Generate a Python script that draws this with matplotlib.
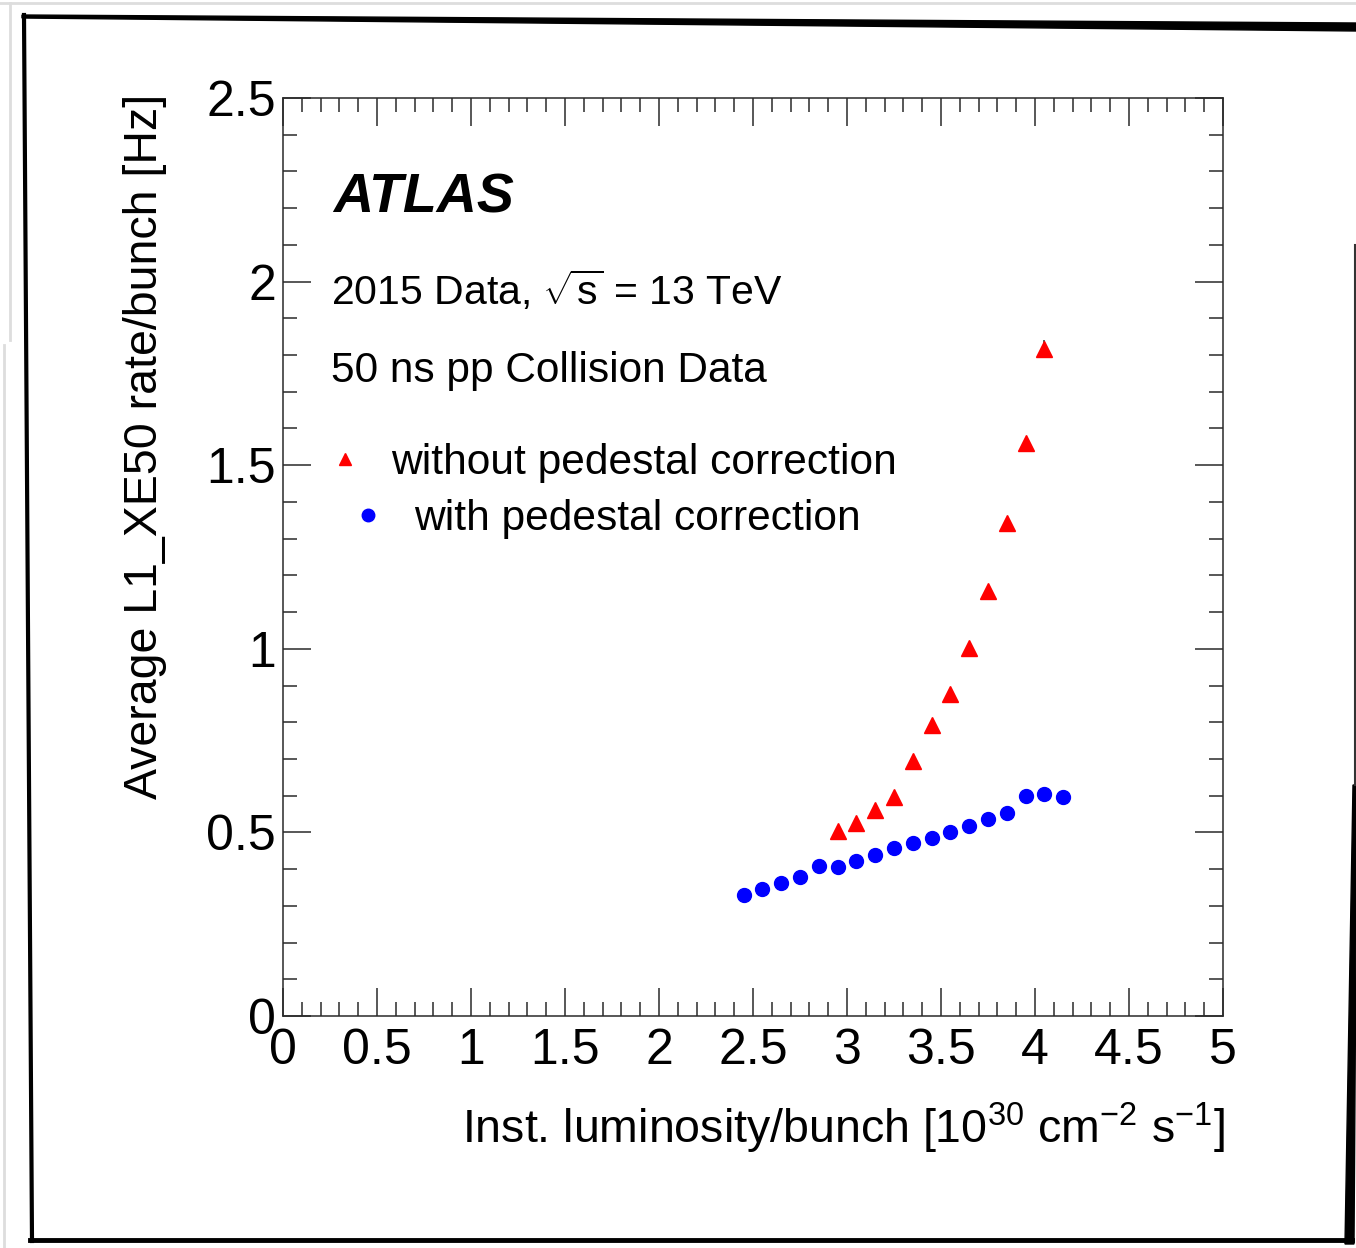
import numpy as np
import matplotlib.pyplot as plt
from matplotlib.lines import Line2D
from matplotlib.patches import Polygon
from matplotlib.ticker import MultipleLocator

plt.rcParams['font.family'] = ['Liberation Sans', 'DejaVu Sans']
plt.rcParams['mathtext.fontset'] = 'custom'
plt.rcParams['mathtext.rm'] = 'Liberation Sans'
plt.rcParams['mathtext.default'] = 'regular'

# L1_XE50 rate per bunch vs instantaneous luminosity per bunch
lumi_corr = [2.45, 2.55, 2.65, 2.75, 2.85, 2.95, 3.05, 3.15, 3.25,
             3.35, 3.45, 3.55, 3.65, 3.75, 3.85, 3.95, 4.05, 4.15]
rate_corr = [0.330, 0.346, 0.362, 0.379, 0.408, 0.406, 0.422, 0.438, 0.458,
             0.471, 0.485, 0.501, 0.517, 0.536, 0.553, 0.599, 0.605, 0.596]

lumi_raw = [2.95, 3.05, 3.15, 3.25, 3.35, 3.45, 3.55, 3.65, 3.75, 3.85, 3.95, 4.05]
rate_raw = [0.504, 0.526, 0.561, 0.596, 0.694, 0.792, 0.877, 1.002, 1.157, 1.343, 1.560, 1.816]
err_raw = [0.004, 0.004, 0.005, 0.005, 0.006, 0.007, 0.008, 0.009, 0.011, 0.013, 0.016, 0.024]

W, H = 1356, 1248
fig = plt.figure(figsize=(W / 100, H / 100), dpi=100)
ax = fig.add_axes([283 / W, 1 - 1016 / H, 940 / W, 918 / H])

axis_col = '#2a2a2a'
ax.errorbar(lumi_raw, rate_raw, yerr=err_raw, fmt='none', ecolor='#444444', elinewidth=1.2, capsize=0)
ax.plot(lumi_raw, rate_raw, ls='none', marker='^', ms=11, color='#ff0000', mec='#ff0000')
ax.plot(lumi_corr, rate_corr, ls='none', marker='o', ms=10, color='#0000ff', mec='#0000ff')

ax.set_xlim(0, 5)
ax.set_ylim(0, 2.5)
ax.xaxis.set_major_locator(MultipleLocator(0.5))
ax.xaxis.set_minor_locator(MultipleLocator(0.1))
ax.yaxis.set_major_locator(MultipleLocator(0.5))
ax.yaxis.set_minor_locator(MultipleLocator(0.1))
ax.xaxis.set_major_formatter(plt.FuncFormatter(lambda v, p: f'{v:g}'))
ax.yaxis.set_major_formatter(plt.FuncFormatter(lambda v, p: f'{v:g}'))

ax.tick_params(which='both', direction='in', top=True, right=True, color=axis_col, width=1.1)
ax.tick_params(which='major', length=20)
ax.tick_params(which='minor', length=10)
ax.tick_params(axis='x', which='major', labelsize=36, pad=9)
ax.tick_params(axis='y', which='major', labelsize=36, pad=5)
for s in ax.spines.values():
    s.set_color(axis_col)
    s.set_linewidth(1.1)

ax.set_xlabel(r'Inst. luminosity/bunch [10$^{30}$ cm$^{-2}$ s$^{-1}$]', fontsize=33.5,
              ha='right', va='center')
ax.xaxis.set_label_coords(1.002, -0.122)
ax.set_ylabel('Average L1_XE50 rate/bunch [Hz]', fontsize=33.5, ha='center', va='center')
ax.yaxis.set_label_coords(-0.147, 0.62)

ax.text(0.053, 0.89, 'ATLAS', transform=ax.transAxes, fontsize=40,
        fontweight='bold', fontstyle='italic', va='center', ha='left')
ax.text(0.051, 0.79, r'2015 Data, $\sqrt{s}$ = 13 TeV', transform=ax.transAxes,
        fontsize=29.5, va='center', ha='left')
ax.text(0.051, 0.703, '50 ns pp Collision Data', transform=ax.transAxes,
        fontsize=30.5, va='center', ha='left')

leg_kw = dict(fontsize=30.6, frameon=False, handlelength=1.0, handletextpad=0.6,
              borderpad=0, borderaxespad=0, loc='center left')
h_raw = Line2D([], [], ls='none', marker='^', ms=9, color='#ff0000')
h_corr = Line2D([], [], ls='none', marker='o', ms=9, color='#0000ff')
leg1 = ax.legend([h_raw], ['without pedestal correction'],
                 bbox_to_anchor=(0.043, 0.6024), **leg_kw)
ax.add_artist(leg1)
ax.legend([h_corr], ['with pedestal correction'],
          bbox_to_anchor=(0.0676, 0.5414), **leg_kw)

# outer frame
def px(x, y):
    return (x / W, 1 - y / H)

frame = fig.transFigure
fig.add_artist(Polygon([px(22, 15), px(1356, 23), px(1356, 31), px(22, 18)],
                       closed=True, color='black', transform=frame))
fig.add_artist(Line2D(*zip(px(24, 15), px(32, 1241)), color='black', lw=3, transform=frame))
fig.add_artist(Line2D(*zip(px(30, 1240), px(1352, 1240)), color='black', lw=3.5, transform=frame))
fig.add_artist(Polygon([px(1353, 785), px(1357, 785), px(1354, 1244), px(1345, 1244)],
                       closed=True, color='black', transform=frame))
fig.add_artist(Line2D(*zip(px(1355, 245), px(1355, 785)), color='#333333', lw=1.5, transform=frame))
fig.add_artist(Line2D(*zip(px(0, 3), px(1356, 3)), color='#dddddd', lw=2, transform=frame))
fig.add_artist(Line2D(*zip(px(10, 3), px(10, 340)), color='#dddddd', lw=2, transform=frame))
fig.add_artist(Line2D(*zip(px(4, 345), px(4, 1248)), color='#dddddd', lw=2, transform=frame))

fig.savefig('out.png', dpi=100)
